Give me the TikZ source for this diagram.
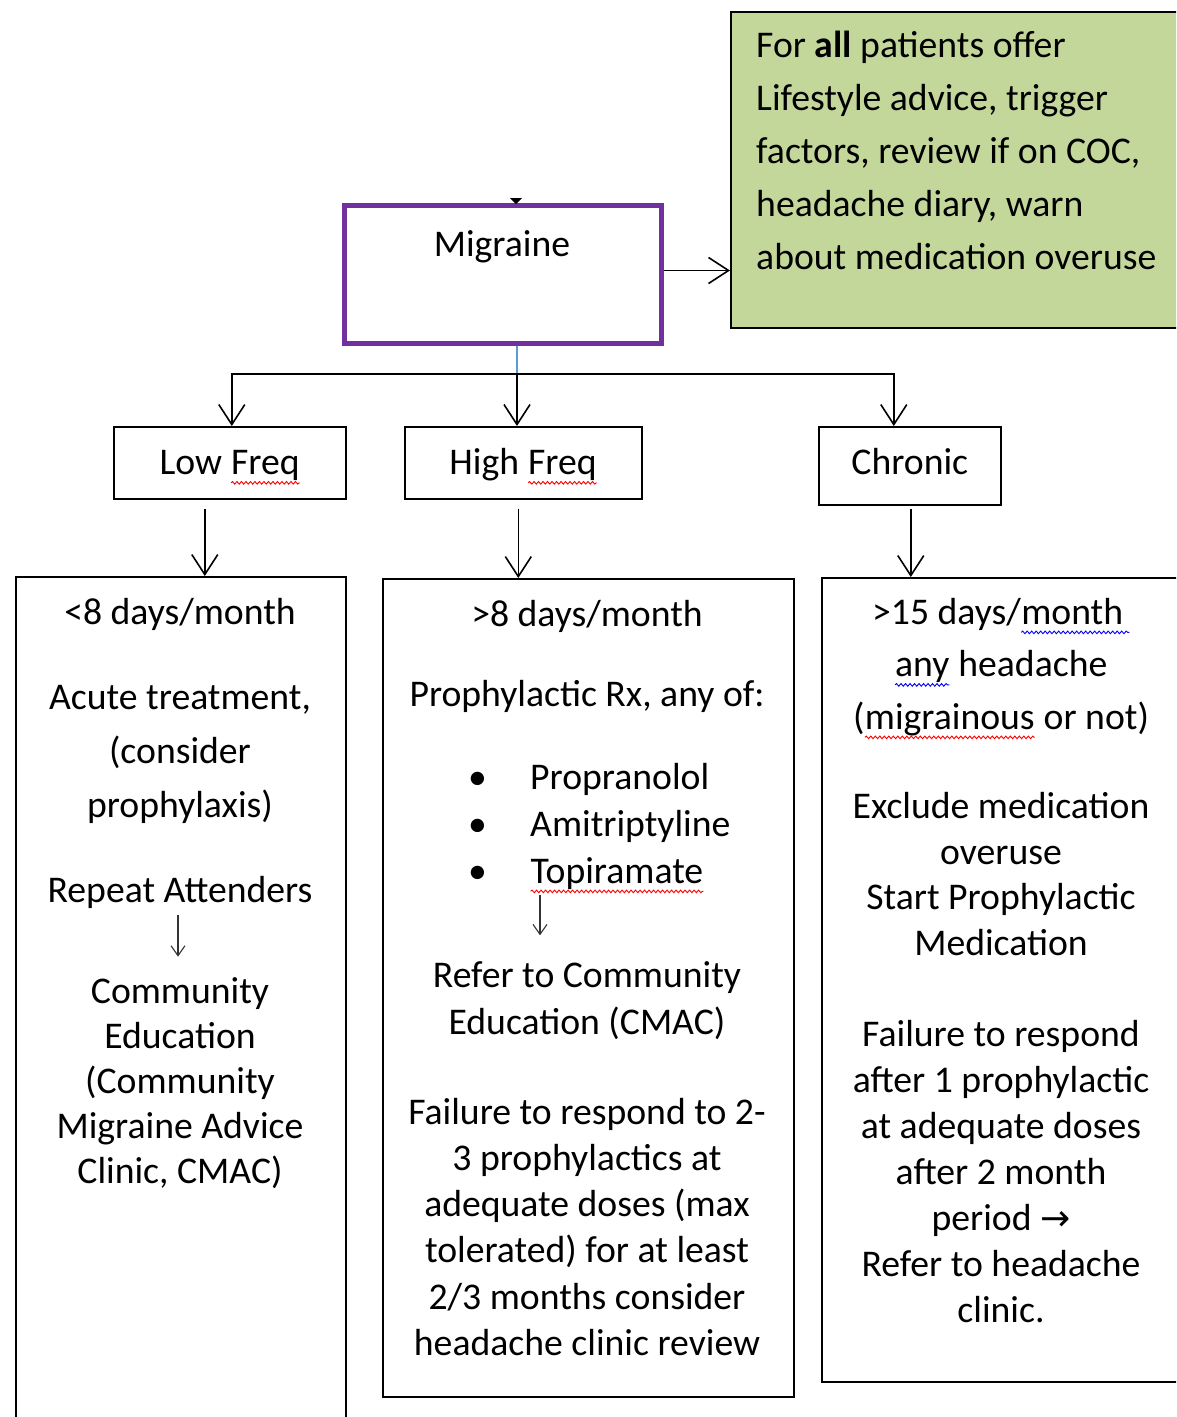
\documentclass[tikz,border=0pt]{standalone}
\usepackage{fontspec}
\setmainfont{Carlito}
\newfontfamily\arrowfont{DejaVu Sans}
\usetikzlibrary{arrows.meta, decorations.pathmorphing}

\definecolor{migpurple}{RGB}{112,48,160}
\definecolor{advgreen}{RGB}{196,215,155}
\definecolor{linkblue}{RGB}{91,155,213}
\newcommand\squig[2]{\tikz[baseline=(w.base)]{\node[draw=none, fill=none, minimum width=0pt, minimum height=0pt,
		inner sep=0pt, outer sep=0pt, anchor=base, text height=, text depth=] (w) {#2};
	\draw[#1, line width=0.9pt, decorate, decoration={snake, amplitude=1.3pt, segment length=4.5pt}]
		([yshift=-8pt]w.base west) -- ([yshift=-8pt]w.base east);}}

\begin{document}
\begin{tikzpicture}[x=1pt, y=-1pt,
	box/.style={draw, line width=1.6pt, inner sep=0pt, anchor=north west, font=\fontsize{37.7}{46}\selectfont},
	freq/.style={box, text height=24pt, text depth=0pt},
	txt/.style={inner sep=0pt, align=center, anchor=north},
	arr/.style={line width=1.6pt, -{Straight Barb[length=20pt, width=26pt, line width=1.6pt]}},
	sarr/.style={line width=1.1pt, black!80, -{Straight Barb[length=10pt, width=14pt, line width=1.1pt]}}]
	\useasboundingbox (0, 0) rectangle (1176, 1417);
	\clip (0, 0) rectangle (1176, 1417);
	
	% top row
	\node[box, fill=advgreen, minimum width=470pt, minimum height=316pt] (advice) at (730, 11) {};
	\node[inner sep=0pt, anchor=north west, align=left, font=\fontsize{37.7}{53}\selectfont] (advtxt) at (756, 31)
		{For \textbf{all} patients offer\\Lifestyle advice, trigger\\factors, review if on COC,\\headache diary, warn\\about medication overuse};
	\node[box, draw=migpurple, line width=5pt, minimum width=317pt, minimum height=138pt] (mig) at (342, 203) {};
	\node[txt, font=\fontsize{37.7}{46}\selectfont] (migtxt) at (502, 230) {Migraine};
	\fill (510, 198) -- (522, 198) -- (516, 204) -- cycle;
	
	% frequency boxes
	\node[freq, minimum width=232pt, minimum height=72pt] (lowf) at (113, 426) {Low \squig{red}{Freq}};
	\node[freq, minimum width=237pt, minimum height=72pt] (highf) at (404, 426) {High \squig{red}{Freq}};
	\node[freq, text depth=6pt, minimum width=182pt, minimum height=78pt] (chronf) at (818, 426) {Chronic};
	
	% large boxes
	\node[box, minimum width=330pt, minimum height=900pt] (lowbox) at (15, 576) {};
	\node[box, minimum width=411pt, minimum height=818pt] (highbox) at (382, 578) {};
	\node[box, minimum width=380pt, minimum height=804pt] (chronbox) at (821, 577) {};
	
	% connectors
	\draw[arr] ([yshift=4pt]mig.east) -- ([yshift=4pt]mig.east -| advice.west);
	\draw[line width=1.2pt, linkblue] ([xshift=14pt]mig.south) -- ++(0, 28) coordinate (split);
	\draw[arr] (split) -| ([xshift=2pt]lowf.north);
	\draw[arr] (split) -| ([xshift=-16pt]chronf.north);
	\draw[arr] (split) -- (split |- highf.north);
	
	\coordinate (lo1) at ([xshift=-25pt, yshift=-9pt]lowf.south);
	\coordinate (hi1) at ([xshift=-5pt, yshift=-9pt]highf.south);
	\coordinate (ch1) at ([xshift=1pt, yshift=-3pt]chronf.south);
	\draw[arr] (lo1) -- (lo1 |- lowbox.north);
	\draw[arr] (hi1) -- (hi1 |- highbox.north);
	\draw[arr] (ch1) -- (ch1 |- chronbox.north);
	
	% low frequency text
	\begin{scope}[every node/.style={txt, font=\fontsize{37.7}{54}\selectfont}]
	\node (lo2) at (180, 598) {<8 days/month};
	\node (lo3) at (180, 685) {Acute treatment,\\(consider\\prophylaxis)};
	\node (lo4) at (180, 876) {Repeat Attenders};
	\node[font=\fontsize{37.7}{45.2}\selectfont] (lo5) at (180, 977) {Community\\Education\\(Community\\Migraine Advice\\Clinic, CMAC)};
	\end{scope}
	\draw[sarr] (lo4.south) ++(-2, 6) -- ++(0, 42);
	
	% high frequency text
	\begin{scope}[every node/.style={txt, font=\fontsize{37.7}{46.2}\selectfont}]
	\node (hi2) at (587, 600) {>8 days/month};
	\node (hi3) at (587, 680) {Prophylactic Rx, any of:};
	\node[anchor=north west, align=left, font=\fontsize{37.7}{47}\selectfont] (hi4) at (468, 763)
		{\makebox[62pt][l]{\textbullet}Propranolol\\\makebox[62pt][l]{\textbullet}Amitriptyline\\\makebox[62pt][l]{\textbullet}\squig{red}{Topiramate}};
	\node[font=\fontsize{37.7}{47}\selectfont] (hi5) at (587, 961) {Refer to Community\\Education (CMAC)};
	\node (hi6) at (587, 1098) {Failure to respond to 2-\\3 prophylactics at\\adequate doses (max\\tolerated) for at least\\2/3 months consider\\headache clinic review};
	\end{scope}
	\draw[sarr] (hi4.south west) ++(72, 2) -- ++(0, 40);
	
	% chronic text
	\begin{scope}[every node/.style={txt, font=\fontsize{37.7}{46}\selectfont}]
	\node[font=\fontsize{37.7}{52.5}\selectfont] (ch2) at (1001, 598) {>15 days/\squig{blue}{month\,}\\\squig{blue}{any} headache\\(\squig{red}{migrainous} or not)};
	\node[font=\fontsize{37.7}{45.7}\selectfont] (ch3) at (1001, 792) {Exclude medication\\overuse\\Start Prophylactic\\Medication};
	\node (ch4) at (1001, 1020) {Failure to respond\\after 1 prophylactic\\at adequate doses\\after 2 month\\period {\arrowfont\fontsize{36}{36}\selectfont →}\\Refer to headache\\clinic.};
	\end{scope}
\end{tikzpicture}
\end{document}
